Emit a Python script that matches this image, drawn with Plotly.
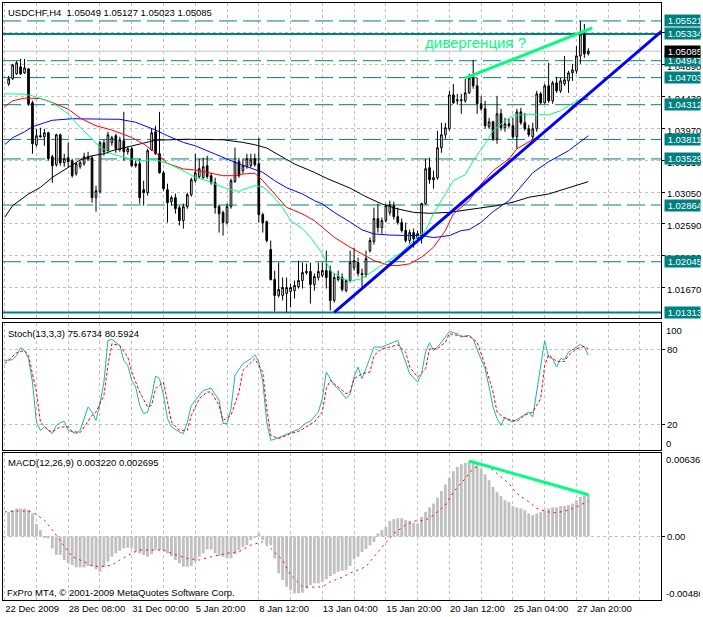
import plotly.graph_objects as go

# ---------------- data ----------------
bars = list(range(147))

opens = [1.04613, 1.04685, 1.04757, 1.04858, 1.04771, 1.04829, 1.04339, 1.03734, 1.03864, 1.03849,
         1.03907, 1.03561, 1.03446, 1.03878, 1.03474, 1.03546, 1.03503, 1.03316, 1.03417, 1.03460,
         1.03561, 1.03546, 1.02970, 1.03056, 1.03763, 1.03647, 1.03763, 1.03864, 1.03662, 1.03791,
         1.03633, 1.03676, 1.03431, 1.03460, 1.03085, 1.03042, 1.03662, 1.03921, 1.03604, 1.03330,
         1.03085, 1.02912, 1.02970, 1.02826, 1.02639, 1.02840, 1.03013, 1.03215, 1.03273, 1.03258,
         1.03431, 1.03287, 1.03186, 1.02840, 1.02754, 1.02610, 1.02840, 1.03201, 1.03489, 1.03359,
         1.03417, 1.03431, 1.03532, 1.03460, 1.02725, 1.02624, 1.02221, 1.01788, 1.01558, 1.01558,
         1.01587, 1.01615, 1.01630, 1.01687, 1.01774, 1.01904, 1.01904, 1.01716, 1.01817, 1.01846,
         1.01918, 1.01918, 1.01486, 1.01788, 1.01817, 1.01630, 1.01774, 1.01961, 1.02033, 1.01875,
         1.01860, 1.02206, 1.02336, 1.02667, 1.02538, 1.02639, 1.02754, 1.02855, 1.02696, 1.02610,
         1.02495, 1.02351, 1.02466, 1.02379, 1.02379, 1.02884, 1.03402, 1.03229, 1.03258, 1.03691,
         1.03878, 1.03964, 1.04454, 1.04368, 1.04368, 1.04368, 1.04483, 1.04699, 1.04584, 1.04325,
         1.04253, 1.03993, 1.04065, 1.03820, 1.04181, 1.03979, 1.04036, 1.04008, 1.03849, 1.04209,
         1.04051, 1.03964, 1.03849, 1.03964, 1.04469, 1.04339, 1.04584, 1.04368, 1.04627, 1.04512,
         1.04613, 1.04656, 1.04771, 1.04800, 1.05016, 1.05333, 1.05049]
highs = [1.04728, 1.04901, 1.04944, 1.04973, 1.04973, 1.04844, 1.04368, 1.03964, 1.03979, 1.03964,
         1.03921, 1.03590, 1.03893, 1.03893, 1.03604, 1.03763, 1.03532, 1.03474, 1.03503, 1.03618,
         1.03633, 1.03575, 1.03143, 1.03791, 1.03806, 1.03921, 1.03864, 1.03893, 1.03849, 1.04209,
         1.03705, 1.03705, 1.03503, 1.03532, 1.03215, 1.03676, 1.03964, 1.04008, 1.04209, 1.03359,
         1.03172, 1.02999, 1.03028, 1.02855, 1.02884, 1.03042, 1.03258, 1.03604, 1.03532, 1.03546,
         1.03575, 1.03330, 1.03258, 1.02869, 1.02783, 1.02884, 1.03244, 1.03691, 1.03546, 1.03532,
         1.03604, 1.03604, 1.03604, 1.03835, 1.02754, 1.02639, 1.02351, 1.01918, 1.02033, 1.01817,
         1.01817, 1.01731, 1.01774, 1.02062, 1.02033, 1.02019, 1.02033, 1.01875, 1.02033, 1.02033,
         1.02206, 1.01990, 1.01875, 1.01918, 1.01875, 1.01788, 1.02206, 1.02249, 1.02105, 1.01947,
         1.02206, 1.02394, 1.02826, 1.02884, 1.02682, 1.02884, 1.02927, 1.02912, 1.02826, 1.02667,
         1.02610, 1.02509, 1.02523, 1.02495, 1.02898, 1.03532, 1.03546, 1.03359, 1.03936, 1.04051,
         1.04051, 1.04512, 1.04613, 1.04469, 1.04469, 1.04685, 1.04757, 1.04959, 1.04699, 1.04440,
         1.04368, 1.04123, 1.04080, 1.04440, 1.04253, 1.04123, 1.04109, 1.04123, 1.04253, 1.04267,
         1.04195, 1.04022, 1.04051, 1.04512, 1.04498, 1.04613, 1.04916, 1.04656, 1.04714, 1.04699,
         1.05016, 1.04800, 1.04901, 1.05160, 1.05521, 1.05478, 1.05127]
lows = [1.04584, 1.04671, 1.04743, 1.04743, 1.04757, 1.04296, 1.03604, 1.03705, 1.03835, 1.03719,
        1.03503, 1.03186, 1.03417, 1.03431, 1.03417, 1.03402, 1.03258, 1.03287, 1.03388, 1.03431,
        1.03503, 1.02898, 1.02768, 1.03028, 1.03575, 1.03604, 1.03719, 1.03618, 1.03633, 1.03503,
        1.03590, 1.03417, 1.03402, 1.02884, 1.02855, 1.02999, 1.03647, 1.03590, 1.03316, 1.03071,
        1.02610, 1.02855, 1.02739, 1.02567, 1.02523, 1.02811, 1.02984, 1.03186, 1.03244, 1.03244,
        1.03244, 1.03157, 1.02739, 1.02466, 1.02423, 1.02581, 1.02811, 1.03186, 1.03258, 1.03316,
        1.03388, 1.03402, 1.03417, 1.02610, 1.02466, 1.02322, 1.01774, 1.01327, 1.01529, 1.01486,
        1.01313, 1.01385, 1.01515, 1.01659, 1.01659, 1.01860, 1.01442, 1.01630, 1.01774, 1.01817,
        1.01659, 1.01342, 1.01457, 1.01760, 1.01615, 1.01601, 1.01745, 1.01918, 1.01832, 1.01673,
        1.01817, 1.02177, 1.02293, 1.02466, 1.02451, 1.02610, 1.02711, 1.02653, 1.02581, 1.02466,
        1.02322, 1.02307, 1.02249, 1.02322, 1.02307, 1.02869, 1.03172, 1.03100, 1.03229, 1.03618,
        1.03820, 1.03936, 1.04325, 1.04310, 1.04181, 1.04339, 1.04469, 1.04541, 1.04181, 1.04224,
        1.03964, 1.03964, 1.03791, 1.03748, 1.03936, 1.03921, 1.03979, 1.03820, 1.03676, 1.04022,
        1.03936, 1.03849, 1.03806, 1.03921, 1.04325, 1.04325, 1.04339, 1.04325, 1.04483, 1.04483,
        1.04584, 1.04483, 1.04656, 1.04757, 1.04901, 1.04988, 1.05023]
closes = [1.04685, 1.04887, 1.04916, 1.04757, 1.04844, 1.04325, 1.03748, 1.03864, 1.03849, 1.03907,
          1.03532, 1.03431, 1.03878, 1.03474, 1.03532, 1.03489, 1.03287, 1.03460, 1.03474, 1.03561,
          1.03532, 1.02970, 1.03071, 1.03763, 1.03633, 1.03878, 1.03835, 1.03676, 1.03806, 1.03633,
          1.03676, 1.03431, 1.03460, 1.02970, 1.03042, 1.03647, 1.03907, 1.03604, 1.03330, 1.03100,
          1.02898, 1.02970, 1.02811, 1.02639, 1.02840, 1.03013, 1.03229, 1.03330, 1.03388, 1.03417,
          1.03273, 1.03186, 1.02826, 1.02739, 1.02610, 1.02840, 1.03215, 1.03489, 1.03287, 1.03431,
          1.03532, 1.03518, 1.03446, 1.02725, 1.02610, 1.02351, 1.01788, 1.01558, 1.01644, 1.01673,
          1.01673, 1.01673, 1.01702, 1.01774, 1.01889, 1.01889, 1.01716, 1.01832, 1.01904, 1.01918,
          1.01817, 1.01486, 1.01817, 1.01832, 1.01644, 1.01774, 1.02033, 1.02062, 1.01875, 1.01860,
          1.02091, 1.02351, 1.02667, 1.02538, 1.02639, 1.02855, 1.02869, 1.02696, 1.02610, 1.02495,
          1.02351, 1.02466, 1.02379, 1.02451, 1.02884, 1.03388, 1.03229, 1.03258, 1.03691, 1.03878,
          1.03979, 1.04454, 1.04339, 1.04382, 1.04382, 1.04483, 1.04699, 1.04584, 1.04325, 1.04253,
          1.04008, 1.04065, 1.03820, 1.04181, 1.03979, 1.04036, 1.04008, 1.03849, 1.04209, 1.04051,
          1.03964, 1.03878, 1.03964, 1.04469, 1.04339, 1.04584, 1.04368, 1.04627, 1.04512, 1.04656,
          1.04671, 1.04771, 1.04815, 1.05016, 1.05333, 1.05045, 1.05085]

ma_green_x = [-1, 4, 6, 11, 15, 18, 21, 23, 26, 29, 33, 37, 40, 44, 47, 50, 53, 55, 58, 59,
              62, 64, 66, 69, 71, 74, 76, 79, 81, 84, 86, 89, 92, 96, 99, 102, 105, 107, 110, 112,
              115, 117, 120, 122, 125, 127, 131, 133, 136, 139, 141, 144, 146]
ma_green_y = [1.04469, 1.04464, 1.04440, 1.04343, 1.04181, 1.03983, 1.03820, 1.03695, 1.03604, 1.03551,
              1.03503, 1.03518, 1.03464, 1.03359, 1.03263, 1.03215, 1.03143, 1.03100, 1.03061, 1.03085,
              1.03143, 1.03128, 1.03028, 1.02830, 1.02639, 1.02523, 1.02398, 1.02163, 1.01918, 1.01803,
              1.01764, 1.01803, 1.01918, 1.02062, 1.02182, 1.02351, 1.02495, 1.02739, 1.03028, 1.03215,
              1.03301, 1.03503, 1.03748, 1.03936, 1.04080, 1.04152, 1.04176, 1.04166, 1.04166, 1.04224,
              1.04296, 1.04392, 1.04416]
ma_red_x = [-1, 1, 4, 8, 11, 15, 18, 22, 26, 31, 34, 37, 40, 44, 47, 50, 54, 57, 59, 62,
            64, 67, 70, 74, 77, 79, 82, 86, 89, 92, 96, 98, 101, 104, 107, 110, 112, 116, 119, 122,
            126, 128, 133, 138, 142, 144, 146]
ma_red_y = [1.04281, 1.04368, 1.04407, 1.04401, 1.04343, 1.04248, 1.04119, 1.04008, 1.03946, 1.03839,
            1.03744, 1.03623, 1.03464, 1.03384, 1.03369, 1.03335, 1.03287, 1.03287, 1.03312, 1.03321,
            1.03215, 1.03023, 1.02830, 1.02735, 1.02639, 1.02542, 1.02398, 1.02254, 1.02159, 1.02062,
            1.01990, 1.01990, 1.02015, 1.02110, 1.02254, 1.02495, 1.02735, 1.02927, 1.03168, 1.03359,
            1.03528, 1.03676, 1.03839, 1.04055, 1.04296, 1.04378, 1.04392]
ma_blue_x = [-1, 1, 4, 6, 9, 11, 16, 21, 26, 28, 32, 37, 40, 44, 47, 50, 54, 57, 60, 64,
             67, 70, 74, 77, 79, 82, 86, 89, 92, 96, 101, 104, 107, 111, 114, 116, 119, 122, 126, 129,
             132, 136, 141, 146]
ma_blue_y = [1.03734, 1.03835, 1.03921, 1.03993, 1.04051, 1.04087, 1.04109, 1.04109, 1.04109, 1.04101,
             1.04058, 1.03946, 1.03864, 1.03767, 1.03719, 1.03647, 1.03542, 1.03479, 1.03417, 1.03335,
             1.03215, 1.03114, 1.03023, 1.02927, 1.02879, 1.02758, 1.02617, 1.02505, 1.02447, 1.02430,
             1.02423, 1.02423, 1.02394, 1.02423, 1.02495, 1.02509, 1.02614, 1.02768, 1.02927, 1.03129,
             1.03330, 1.03489, 1.03647, 1.03864]
ma_black_x = [-1, 1, 5, 8, 11, 15, 18, 21, 24, 26, 30, 33, 37, 45, 54, 59, 62, 65, 69, 72,
              77, 80, 86, 90, 94, 98, 102, 106, 111, 115, 119, 123, 127, 131, 136, 140, 144, 146]
ma_black_y = [1.02686, 1.02855, 1.03023, 1.03118, 1.03263, 1.03407, 1.03513, 1.03575, 1.03604, 1.03647,
              1.03705, 1.03744, 1.03799, 1.03813, 1.03806, 1.03767, 1.03734, 1.03686, 1.03551, 1.03456,
              1.03335, 1.03251, 1.03107, 1.02984, 1.02879, 1.02807, 1.02758, 1.02744, 1.02758, 1.02793,
              1.02822, 1.02855, 1.02904, 1.02975, 1.03023, 1.03096, 1.03168, 1.03201]

stoch_k_x = [-1, 1, 2, 3, 4, 5, 6, 7, 8, 9, 10, 11, 12, 13, 14, 15, 16, 17, 18, 19,
             20, 21, 22, 23, 24, 25, 26, 28, 29, 30, 31, 32, 33, 34, 35, 36, 37, 38, 39, 40,
             41, 43, 44, 45, 46, 48, 49, 50, 51, 53, 54, 55, 56, 57, 59, 61, 62, 63, 64, 65,
             66, 67, 69, 70, 71, 73, 75, 76, 78, 79, 80, 81, 82, 83, 84, 85, 86, 87, 88, 89,
             90, 92, 94, 96, 98, 100, 101, 103, 104, 105, 106, 107, 108, 110, 111, 113, 114, 116, 117, 118,
             120, 121, 122, 123, 124, 125, 126, 127, 129, 131, 132, 133, 134, 135, 136, 137, 138, 139, 140, 141,
             143, 144, 145, 146]
stoch_k_y = [71.4, 72, 75.4, 81.6, 79.4, 72.8, 54.1, 22.1, 15.4, 18.1, 15.4, 12.8, 19.4, 21.6, 22.6, 15.4, 14.1, 12.8, 15.4, 24.8,
             34.1, 30.1, 23.4, 36.8, 54.1, 87.4, 88.2, 83.4, 71.4, 67.4, 55.4, 50.1, 35.4, 28.8, 30.1, 42.1, 58.9, 56.8, 43.4, 24.8,
             18.1, 14.1, 12.8, 22.1, 35.4, 43.4, 47.4, 48.2, 49.3, 39.4, 20.8, 20.8, 32.8, 59.4, 68.8, 72.8, 76, 70.1, 54.1, 22.1,
             7.4, 8.2, 10.9, 12, 13.6, 16.2, 21.6, 22.6, 30.1, 40.8, 62.1, 56.8, 51.4, 48.8, 44.8, 40.8, 44.5, 58.1, 66.1, 56.8,
             64.8, 82.1, 82.1, 84.8, 87.4, 70.1, 60.8, 54.1, 60.8, 78.1, 85.6, 79.4, 82.1, 90.1, 94.6, 92.8, 90.1, 91.4, 88.8, 80,
             64.8, 50.1, 34.1, 24.8, 19.4, 26.1, 23.4, 22.1, 26.1, 30.1, 26.1, 46.1, 67.4, 87.4, 74.1, 72.8, 66.1, 72.8, 72.2, 78.1,
             82.1, 84.2, 82.1, 75.67]
stoch_d_x = [-1, 2, 4, 5, 7, 8, 10, 11, 13, 15, 16, 18, 19, 21, 22, 24, 25, 26, 28, 30,
             31, 33, 35, 36, 37, 39, 40, 41, 43, 45, 46, 48, 50, 51, 53, 54, 56, 58, 59, 61,
             62, 64, 65, 66, 68, 70, 71, 73, 75, 77, 79, 80, 81, 83, 85, 86, 87, 89, 91, 92,
             94, 96, 98, 100, 101, 103, 105, 106, 108, 110, 111, 114, 116, 118, 120, 122, 123, 125, 126, 128,
             130, 132, 134, 135, 136, 138, 140, 141, 143, 145, 146]
stoch_d_y = [68.8, 77.6, 79.4, 75.4, 46.1, 22.1, 15.4, 14.1, 18.1, 18.1, 14.6, 13.6, 18.1, 27.4, 30.1, 43.4, 67.4, 84.8, 83.4, 74.1,
             62.1, 46.1, 34.1, 35.4, 48.8, 54.1, 38.1, 22.1, 15.4, 15.4, 27.4, 40.8, 46.1, 46.1, 35.4, 23.4, 27.4, 46.1, 63.4, 70.1,
             72.8, 62.1, 32.8, 11.4, 8.8, 11.4, 12.8, 14.6, 18.1, 22.1, 30.1, 48.8, 55.4, 50.1, 44.8, 46.1, 56.8, 60.8, 62.1, 75.4,
             80.8, 82.1, 84, 78.1, 66.1, 58.1, 64.8, 80.8, 80.8, 86.1, 92.8, 90.9, 90.9, 86.1, 67.4, 46.1, 30.1, 24.8, 24.2, 22.6,
             27.4, 30.1, 40.8, 67.4, 76, 70.6, 70.6, 75.4, 80.8, 82.6, 80.59]

macd_hist = [0.00187, 0.00200, 0.00213, 0.00213, 0.00213, 0.00205, 0.00175, 0.00094, 0.00048, -0.00005,
             -0.00015, -0.00091, -0.00142, -0.00142, -0.00180, -0.00206, -0.00219, -0.00236, -0.00236, -0.00236,
             -0.00226, -0.00231, -0.00251, -0.00270, -0.00236, -0.00193, -0.00155, -0.00129, -0.00110, -0.00091,
             -0.00087, -0.00091, -0.00117, -0.00129, -0.00142, -0.00155, -0.00135, -0.00104, -0.00104, -0.00104,
             -0.00129, -0.00150, -0.00180, -0.00206, -0.00231, -0.00231, -0.00226, -0.00193, -0.00155, -0.00129,
             -0.00099, -0.00099, -0.00129, -0.00150, -0.00155, -0.00168, -0.00168, -0.00135, -0.00104, -0.00079,
             -0.00066, -0.00028, -0.00008, 0.00023, -0.00028, -0.00059, -0.00066, -0.00168, -0.00282, -0.00333,
             -0.00384, -0.00409, -0.00434, -0.00434, -0.00429, -0.00396, -0.00371, -0.00358, -0.00358, -0.00346,
             -0.00327, -0.00302, -0.00287, -0.00270, -0.00262, -0.00255, -0.00225, -0.00175, -0.00155, -0.00120,
             -0.00095, -0.00068, -0.00042, 0.00023, 0.00048, 0.00073, 0.00119, 0.00132, 0.00139, 0.00139,
             0.00124, 0.00119, 0.00104, 0.00099, 0.00149, 0.00187, 0.00221, 0.00251, 0.00294, 0.00347,
             0.00396, 0.00449, 0.00497, 0.00530, 0.00550, 0.00560, 0.00573, 0.00573, 0.00556, 0.00518,
             0.00474, 0.00429, 0.00378, 0.00340, 0.00307, 0.00276, 0.00263, 0.00231, 0.00221, 0.00213,
             0.00200, 0.00175, 0.00162, 0.00175, 0.00185, 0.00200, 0.00213, 0.00221, 0.00221, 0.00231,
             0.00231, 0.00238, 0.00251, 0.00276, 0.00302, 0.00314, 0.00322]
macd_sig_x = [-1, 3, 6, 9, 11, 14, 16, 19, 21, 23, 26, 28, 31, 33, 36, 39, 41, 45, 48, 51,
              55, 58, 61, 64, 66, 69, 71, 74, 76, 79, 81, 84, 86, 90, 92, 95, 97, 100, 102, 105,
              107, 110, 112, 115, 117, 119, 121, 123, 126, 128, 131, 133, 136, 138, 141, 143, 146]
macd_sig_y = [0.00187, 0.00195, 0.00187, 0.00124, 0.00048, -0.00079, -0.00155, -0.00193, -0.00224, -0.00231,
              -0.00219, -0.00180, -0.00129, -0.00104, -0.00104, -0.00104, -0.00129, -0.00168, -0.00180, -0.00155,
              -0.00129, -0.00117, -0.00066, -0.00041, -0.00091, -0.00180, -0.00295, -0.00384, -0.00388, -0.00384,
              -0.00346, -0.00312, -0.00280, -0.00231, -0.00155, -0.00053, 0.00023, 0.00086, 0.00116, 0.00124,
              0.00162, 0.00238, 0.00340, 0.00442, 0.00518, 0.00543, 0.00530, 0.00480, 0.00404, 0.00327,
              0.00263, 0.00213, 0.00187, 0.00180, 0.00200, 0.00225, 0.002695]

level_dashed = [1.05521, 1.04947, 1.04703, 1.04312, 1.03811, 1.03529, 1.02864, 1.02045]
level_solid = [1.05334, 1.01313]
bid_price = 1.05085
price_ticks = [1.01670, 1.02130, 1.02590, 1.03050, 1.03510, 1.03970, 1.04430, 1.04890, 1.05350]

trend_x = [82, 164.5]
trend_y = [1.01315, 1.05374]
div_x = [115, 147]
div_y = [1.04695, 1.05420]
macd_div_x = [116, 146]
macd_div_y = [0.00575, 0.00318]

x_range = [-1.425, 164.3]
grid_bars = list(range(-1, 164, 8))
time_label_bars = [-1, 15, 31, 47, 63, 79, 95, 111, 127, 143]
time_labels = ["22 Dec 2009", "28 Dec 08:00", "31 Dec 00:00", "5 Jan 20:00", "8 Jan 12:00",
               "13 Jan 04:00", "15 Jan 20:00", "20 Jan 12:00", "25 Jan 04:00", "27 Jan 20:00"]

header_main = "USDCHF,H4\u00a0 1.05049 1.05127 1.05023 1.05085"
header_stoch = "Stoch(13,3,3) 75.6734 80.5924"
header_macd = "MACD(12,26,9) 0.003220 0.002695"
footer = "FxPro MT4, \u00a9 2001-2009 MetaQuotes Software Corp."
div_text = "дивергенция ?"

# ---------------- style ----------------
TEAL = "#008080"
GRID = "#c0c0c0"
SPRING = "#00ff7f"
SEA = "#20b2aa"
FONT = "Liberation Sans, Arial, sans-serif"
FS = 9.5

fig = go.Figure()

fig.add_trace(go.Candlestick(
    x=bars, open=opens, high=highs, low=lows, close=closes,
    increasing=dict(line=dict(color="black", width=1), fillcolor="white"),
    decreasing=dict(line=dict(color="black", width=1), fillcolor="black"),
    whiskerwidth=0, xaxis="x", yaxis="y", hoverinfo="skip"))

for xs, ys, col in [(ma_black_x, ma_black_y, "black"), (ma_blue_x, ma_blue_y, "#0000ff"),
                    (ma_red_x, ma_red_y, "#ff0000"), (ma_green_x, ma_green_y, SPRING)]:
    fig.add_trace(go.Scatter(x=xs, y=ys, mode="lines", line=dict(color=col, width=1),
                             xaxis="x", yaxis="y", hoverinfo="skip"))

fig.add_trace(go.Scatter(x=trend_x, y=trend_y, mode="lines", line=dict(color="#0000ff", width=3),
                         xaxis="x", yaxis="y", hoverinfo="skip", cliponaxis=True))
fig.add_trace(go.Scatter(x=div_x, y=div_y, mode="lines", line=dict(color=SPRING, width=3),
                         xaxis="x", yaxis="y", hoverinfo="skip"))

# stochastic
fig.add_trace(go.Scatter(x=stoch_k_x, y=stoch_k_y, mode="lines", line=dict(color=SEA, width=1),
                         xaxis="x2", yaxis="y2", hoverinfo="skip"))
fig.add_trace(go.Scatter(x=stoch_d_x, y=stoch_d_y, mode="lines",
                         line=dict(color="#ff0000", width=1, dash="3px,2px"),
                         xaxis="x2", yaxis="y2", hoverinfo="skip"))

# MACD
fig.add_trace(go.Bar(x=bars, y=macd_hist, width=0.72, marker=dict(color=GRID, line=dict(width=0)),
                     xaxis="x3", yaxis="y3", hoverinfo="skip"))
fig.add_trace(go.Scatter(x=macd_sig_x, y=macd_sig_y, mode="lines",
                         line=dict(color="#ff0000", width=1, dash="2px,4px"),
                         xaxis="x3", yaxis="y3", hoverinfo="skip"))
fig.add_trace(go.Scatter(x=macd_div_x, y=macd_div_y, mode="lines", line=dict(color=SPRING, width=3),
                         xaxis="x3", yaxis="y3", hoverinfo="skip"))

shapes = []
for lv in level_dashed:
    shapes.append(dict(type="line", xref="x", yref="y", x0=x_range[0], x1=x_range[1], y0=lv, y1=lv,
                       line=dict(color=TEAL, width=1, dash="18px,6px"), layer="between"))
for lv in level_solid:
    shapes.append(dict(type="line", xref="x", yref="y", x0=x_range[0], x1=x_range[1], y0=lv, y1=lv,
                       line=dict(color=TEAL, width=2), layer="between"))
shapes.append(dict(type="line", xref="x", yref="y", x0=x_range[0], x1=x_range[1], y0=bid_price, y1=bid_price,
                   line=dict(color=GRID, width=1), layer="between"))

ann = []
for lv in level_dashed + level_solid:
    ann.append(dict(xref="paper", x=1, xanchor="left", xshift=3, yref="y", y=lv, yanchor="middle",
                    text="\u00a0" + f"{lv:.5f}", showarrow=False, bgcolor=TEAL, width=35, height=11,
                    align="left", borderpad=0, font=dict(color="white", size=FS, family=FONT)))
ann.append(dict(xref="paper", x=1, xanchor="left", xshift=3, yref="y", y=bid_price, yanchor="middle",
                text="\u00a0" + f"{bid_price:.5f}", showarrow=False, bgcolor="black", width=35, height=11,
                align="left", borderpad=0, font=dict(color="white", size=FS, family=FONT)))

def txt(text, xref, x, yref, y, xshift=0, yshift=0, xanchor="left", yanchor="middle", size=FS,
        color="black", width=None):
    d = dict(text=text, xref=xref, x=x, yref=yref, y=y, xshift=xshift, yshift=yshift,
             xanchor=xanchor, yanchor=yanchor, showarrow=False, align="left", borderpad=0,
             font=dict(size=size, color=color, family=FONT))
    if width:
        d["width"] = width
    return d

ann.append(txt(header_main, "paper", 0, "y domain", 1, xshift=4, yshift=-9))
ann.append(txt(header_stoch, "paper", 0, "y2 domain", 1, xshift=4, yshift=-11))
ann.append(txt(header_macd, "paper", 0, "y3 domain", 1, xshift=4, yshift=-9.5))
ann.append(txt(footer, "paper", 0, "y3 domain", 0, xshift=3, yshift=8))
ann.append(txt("100", "paper", 1, "y2 domain", 1, xshift=4, yshift=-7.5))
ann.append(txt("0", "paper", 1, "y2 domain", 0, xshift=4, yshift=7))
ann.append(txt("0.006365", "paper", 1, "y3 domain", 1, xshift=4, yshift=-7, width=34))
ann.append(txt("-0.004860", "paper", 1, "y3 domain", 0, xshift=4, yshift=7, width=34))
ann.append(txt(div_text, "x", 104.6, "y", 1.05211, size=15, color=SPRING))

tick_text = [time_labels[time_label_bars.index(b)] if b in time_label_bars else "" for b in grid_bars]

xcommon = dict(range=x_range, tickvals=grid_bars, showgrid=True, gridcolor=GRID,
               griddash="3px,3px", gridwidth=1, zeroline=False, showline=True, mirror=True,
               linecolor="black", linewidth=1, ticks="", fixedrange=True)
ycommon = dict(side="right", showgrid=True, gridcolor=GRID, griddash="3px,3px", gridwidth=1,
               zeroline=False, showline=True, mirror=True, linecolor="black", linewidth=1,
               ticks="outside", ticklen=3, tickcolor="black", fixedrange=True,
               tickfont=dict(size=FS, family=FONT, color="black"))

fig.update_layout(
    width=703, height=617,
    margin=dict(l=2, r=38, t=2, b=17),
    paper_bgcolor="white", plot_bgcolor="white",
    showlegend=False, boxgap=0.4, bargap=0.2,
    font=dict(family=FONT, size=FS, color="black"),
    xaxis=dict(**xcommon, anchor="y", showticklabels=False, rangeslider=dict(visible=False)),
    xaxis2=dict(**xcommon, anchor="y2", showticklabels=False),
    xaxis3=dict(**xcommon, anchor="y3", showticklabels=True, ticktext=tick_text,
                ticklabelposition="outside right", tickangle=0,
                tickfont=dict(size=FS, family=FONT, color="black")),
    yaxis=dict(**ycommon, domain=[0.47157, 1], anchor="x", range=[1.01226, 1.05780],
               tickvals=price_ticks, ticktext=[f"{v:.5f}" for v in price_ticks], ticklabelshift=2),
    yaxis2=dict(**ycommon, domain=[0.25084, 0.46405], anchor="x2", range=[-0.56, 101.44],
                tickvals=[20, 80], ticktext=["20", "80"]),
    yaxis3=dict(**ycommon, domain=[0, 0.24632], anchor="x3", range=[-0.00485, 0.006365],
                tickvals=[0], ticktext=["0.00"]),
    shapes=shapes, annotations=ann,
)

fig.write_html("out.html", config={"displayModeBar": False},
               post_script="document.body.style.margin='0';document.body.style.overflow='hidden';")
